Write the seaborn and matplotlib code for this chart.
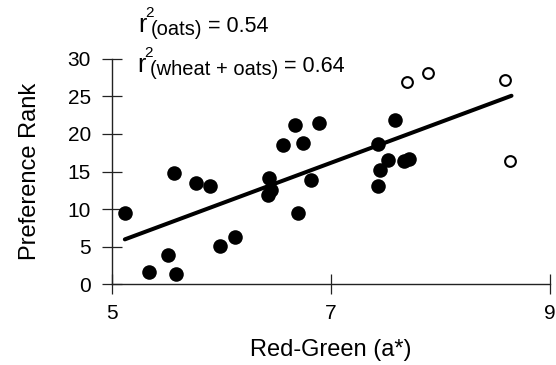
import matplotlib
matplotlib.use("Agg")
import matplotlib.pyplot as plt
import seaborn as sns
import pandas as pd

# Filled points (wheat)
filled_x = [5.12, 5.34, 5.51, 5.59, 5.57, 5.77, 5.90, 5.99, 6.13, 6.44, 6.45, 6.43,
            6.56, 6.67, 6.75, 6.70, 6.82, 6.89, 7.43, 7.59, 7.52, 7.45, 7.43, 7.67, 7.71]
filled_y = [9.44, 1.68, 3.9, 1.37, 14.76, 13.5, 13.07, 5.09, 6.33, 14.1, 12.54, 11.87,
            18.5, 21.2, 18.8, 9.44, 13.87, 21.4, 18.66, 21.85, 16.6, 15.2, 13.07, 16.46, 16.66]
# Open points (oats)
open_x = [7.70, 7.89, 8.59, 8.64]
open_y = [26.86, 28.14, 27.17, 16.44]
# Regression line endpoints
fit_x = [5.12, 8.65]
fit_y = [5.98, 25.08]

x_ticks = [5, 7, 9]
y_ticks = [0, 5, 10, 15, 20, 25, 30]

sns.set_theme(style="white")
plt.rcParams['font.family'] = ['Liberation Sans', 'DejaVu Sans']

fig = plt.figure(figsize=(5.56, 3.65), dpi=100)
ax = fig.add_axes([0.2009, 0.221, 0.788, 0.618])

df_f = pd.DataFrame({"x": filled_x, "y": filled_y})
df_o = pd.DataFrame({"x": open_x, "y": open_y})
df_l = pd.DataFrame({"x": fit_x, "y": fit_y})

sns.lineplot(data=df_l, x="x", y="y", ax=ax, color="black", linewidth=2.9, zorder=2)
sns.scatterplot(data=df_f, x="x", y="y", ax=ax, color="black", s=110, linewidth=0, zorder=3)
sns.scatterplot(data=df_o, x="x", y="y", ax=ax, facecolor="white", edgecolor="black",
                s=60, linewidth=1.5, zorder=3)

ax.set_xlim(5, 9)
ax.set_ylim(0, 30)
ax.set_xticks(x_ticks)
ax.set_yticks(y_ticks)
ax.set_xticklabels([str(v) for v in x_ticks])
ax.set_yticklabels([str(v) for v in y_ticks])

for s in ["top", "right"]:
    ax.spines[s].set_visible(False)
for s in ["left", "bottom"]:
    ax.spines[s].set_color("#222222")
    ax.spines[s].set_linewidth(1.0)

ax.tick_params(axis="both", bottom=True, left=True, direction="inout", length=14,
               width=0.9, color="#222222", labelsize=15, labelcolor="black")
ax.tick_params(axis="y", pad=8)
ax.tick_params(axis="x", pad=7)

ax.set_xlabel("Red-Green (a*)", fontsize=17, labelpad=12, color="black")
ax.set_ylabel("Preference Rank", fontsize=17, labelpad=19, color="black")


def r2_label(x_px, base_px, sub, value):
    yb = (365 - base_px) / 365
    t1 = fig.text(x_px / 556, yb, "r", fontsize=18, va="baseline", ha="left", color="black")
    ax.annotate("2", xy=(1, yb), xycoords=(t1, "figure fraction"),
                xytext=(-0.8, 10.8), textcoords="offset points",
                fontsize=11, va="baseline", ha="left", color="black")
    t3 = ax.annotate(sub, xy=(1, yb), xycoords=(t1, "figure fraction"),
                     xytext=(3.0, -2.5), textcoords="offset points",
                     fontsize=14.5, va="baseline", ha="left", color="black")
    ax.annotate(" = " + value, xy=(1, yb), xycoords=(t3, "figure fraction"),
                xytext=(0, 0), textcoords="offset points",
                fontsize=15.5, va="baseline", ha="left", color="black")


r2_label(138, 31.7, "(oats)", "0.54")
r2_label(137, 71.7, "(wheat + oats)", "0.64")

fig.savefig("out.png", dpi=100, facecolor="white")
